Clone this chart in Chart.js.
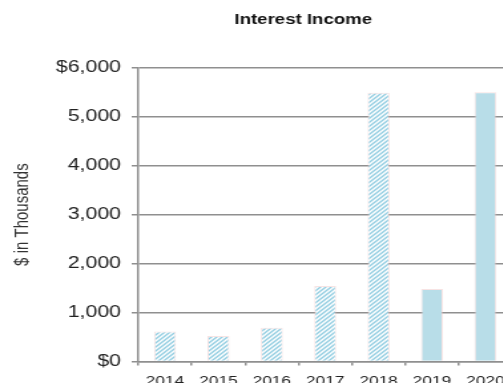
<!DOCTYPE html>
<html>
<head>
<meta charset="utf-8">
<title>Interest Income</title>
<script src="https://cdn.jsdelivr.net/npm/chart.js@4.4.1/dist/chart.umd.min.js"></script>
<style>
    html, body { margin: 0; padding: 0; background: #fff; overflow: hidden; }
    #wrap { width: 503px; height: 383px; overflow: hidden; position: relative; }
    /* the reference is drawn wide, so the whole canvas is stretched sideways */
    #stretch { width: 456px; height: 397px; transform: scaleX(1.33); transform-origin: 0 0; }
</style>
</head>
<body>
<div id="wrap">
    <div id="stretch"><canvas id="myChart" width="456" height="397"></canvas></div>
</div>
<script>
const years = ['2014', '2015', '2016', '2017', '2018', '2019', '2020'];
const income = [610, 520, 690, 1540, 5490, 1480, 5500];
const hatched = [true, true, true, true, true, false, false];
const yTicks = [0, 1000, 2000, 3000, 4000, 5000, 6000];

const solidBlue = '#b8dde8';
const stripeBlue = '#93cee2';
const gridGray = '#8f8f8f';

function makeHatch() {
    const c = document.createElement('canvas');
    c.width = 4;
    c.height = 4;
    const g = c.getContext('2d');
    g.fillStyle = '#fff';
    g.fillRect(0, 0, 4, 4);
    g.strokeStyle = stripeBlue;
    g.lineWidth = 1.4;
    g.beginPath();
    g.moveTo(-1, 5); g.lineTo(5, -1);
    g.moveTo(-1, 1); g.lineTo(1, -1);
    g.moveTo(3, 5); g.lineTo(5, 3);
    g.stroke();
    return g.createPattern(c, 'repeat');
}

const hatch = makeHatch();
const fontFamily = "'Liberation Sans', Arial, sans-serif";

function fmtTick(v) {
    const s = Number(v).toLocaleString('en-US');
    return (v === yTicks[0] || v === yTicks[yTicks.length - 1]) ? '$' + s : s;
}

const ctx = document.getElementById('myChart').getContext('2d');
const myChart = new Chart(ctx, {
    type: 'bar',
    data: {
        labels: years,
        datasets: [{
            label: 'Interest Income',
            data: income,
            backgroundColor: hatched.map(h => h ? hatch : solidBlue),
            borderColor: 'rgba(240, 200, 200, 0.5)',
            borderWidth: 1,
            categoryPercentage: 1,
            barPercentage: 0.41,
            yAxisID: 'y'
        }]
    },
    options: {
        responsive: false,
        animation: false,
        devicePixelRatio: 1,
        layout: { padding: 0 },
        plugins: {
            legend: { display: false },
            tooltip: { enabled: false },
            title: {
                display: true,
                text: 'Interest Income',
                color: '#111',
                font: { family: fontFamily, size: 14, weight: 'bold' },
                padding: { top: 12, bottom: 39 }
            }
        },
        scales: {
            x: {
                offset: true,
                grid: {
                    display: true,
                    drawOnChartArea: false,
                    drawTicks: true,
                    tickLength: 4,
                    offset: true,
                    color: gridGray,
                    lineWidth: 1.5
                },
                border: { display: true, color: gridGray, width: 1.5 },
                ticks: {
                    color: '#222',
                    padding: 8,
                    maxRotation: 0,
                    font: { family: fontFamily, size: 13 }
                }
            },
            y: {
                position: 'left',
                min: 0,
                max: 6000,
                afterBuildTicks: scale => {
                    scale.ticks = yTicks.map(v => ({ value: v }));
                },
                afterFit: scale => { scale.width = 104; },
                grid: {
                    color: gridGray,
                    lineWidth: 1.5,
                    tickLength: 5
                },
                border: { display: true, color: gridGray, width: 1.5 },
                ticks: {
                    color: '#222',
                    padding: 8,
                    font: { family: fontFamily, size: 16 },
                    callback: v => fmtTick(v)
                },
                title: {
                    display: true,
                    text: '$ in Thousands',
                    color: '#333',
                    font: { family: fontFamily, size: 15 },
                    padding: { top: 8, bottom: 4 }
                }
            },
            // empty right axis that only holds room, so the plot runs past the window edge
            yRight: {
                position: 'right',
                display: true,
                min: 0,
                max: 6000,
                grid: { display: false },
                border: { display: false },
                ticks: { display: false },
                afterFit: scale => { scale.width = 71; }
            }
        }
    }
});
</script>
</body>
</html>
